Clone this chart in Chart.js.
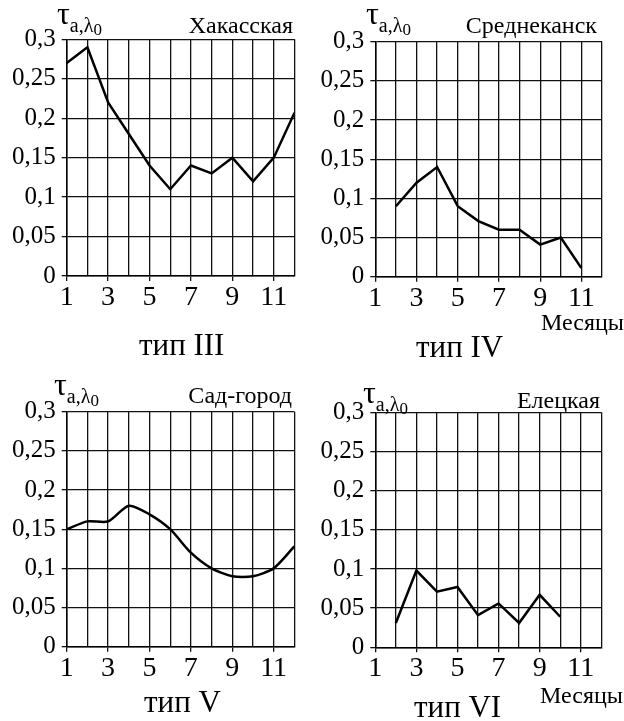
<!DOCTYPE html>
<html>
<head>
<meta charset="utf-8">
<script src="https://cdn.jsdelivr.net/npm/chart.js@4"></script>
<style>
  body { margin: 0; background: #fff; }
  #wrap { position: relative; width: 624px; height: 721px; }
  canvas { position: absolute; }
</style>
</head>
<body>
<div id="wrap"></div>
<script>
// данные (месяцы и значения tau)
const yTickLabels = ["0", "0,05", "0,1", "0,15", "0,2", "0,25", "0,3"];
const xTickLabels = ["1", "3", "5", "7", "9", "11"];

const khakasMonths = [1, 2, 3, 4, 5, 6, 7, 8, 9, 10, 11, 12];
const khakasValues = [0.27, 0.29, 0.22, 0.18, 0.14, 0.11, 0.14, 0.13, 0.15, 0.12, 0.15, 0.207];

const srednekanskMonths = [2, 3, 4, 5, 6, 7, 8, 9, 10, 11];
const srednekanskValues = [0.09, 0.12, 0.14, 0.09, 0.071, 0.06, 0.06, 0.041, 0.05, 0.011];

const sadgorodMonths = [1, 2, 3, 4, 5, 6, 7, 8, 9, 10, 11, 12];
const sadgorodValues = [0.15, 0.16, 0.16, 0.18, 0.169, 0.15, 0.12, 0.1, 0.09, 0.09, 0.1, 0.128];

const eletskMonths = [2, 3, 4, 5, 6, 7, 8, 9, 10];
const eletskValues = [0.031, 0.098, 0.071, 0.077, 0.041, 0.056, 0.031, 0.067, 0.039];

const panels = [
    { title: "Хакасская", tip: "тип III", months: khakasMonths, values: khakasValues, tension: 0,
      x: 0, y: 0, h: 360, area: { l: 66.7, t: 39.3, r: 294.5, b: 276 },
      titleX: 293, titleY: 33, tauX: 57, tauY: 24, tipX: 139, tipY: 355, mes: null },
    { title: "Среднеканск", tip: "тип IV", months: srednekanskMonths, values: srednekanskValues, tension: 0,
      x: 312, y: 0, h: 360, area: { l: 63.3, t: 41.7, r: 290, b: 276.7 },
      titleX: 285, titleY: 33, tauX: 54, tauY: 24, tipX: 104, tipY: 357, mes: { x: 229, y: 330 } },
    { title: "Сад-город", tip: "тип V", months: sadgorodMonths, values: sadgorodValues, tension: 0.25,
      x: 0, y: 360, h: 361, area: { l: 66.7, t: 51.7, r: 294.3, b: 286.7 },
      titleX: 292, titleY: 43, tauX: 54, tauY: 35, tipX: 144, tipY: 352, mes: null },
    { title: "Елецкая", tip: "тип VI", months: eletskMonths, values: eletskValues, tension: 0,
      x: 312, y: 360, h: 361, area: { l: 63.3, t: 52.3, r: 289.3, b: 287.3 },
      titleX: 288, titleY: 48, tauX: 51, tauY: 43, tipX: 102, tipY: 357, mes: { x: 228, y: 343 } }
];

const serif = "'Liberation Serif', 'DejaVu Serif', serif";

// подписи: название станции, tau, тип, месяцы
const textPlugin = {
    id: "texts",
    afterDraw(chart) {
        const p = chart.options.plugins.texts.panel;
        const ctx = chart.ctx;
        ctx.save();
        ctx.fillStyle = "#000";
        ctx.textBaseline = "alphabetic";

        ctx.font = "24px " + serif;
        ctx.textAlign = "right";
        ctx.fillText(p.title, p.titleX, p.titleY);

        ctx.textAlign = "left";
        ctx.font = "32px " + serif;
        ctx.fillText("τ", p.tauX, p.tauY);
        let w = ctx.measureText("τ").width;
        ctx.font = "20px " + serif;
        ctx.fillText("a,λ", p.tauX + w, p.tauY + 8);
        w += ctx.measureText("a,λ").width;
        ctx.font = "17px " + serif;
        ctx.fillText("0", p.tauX + w, p.tauY + 11);

        ctx.font = "31px " + serif;
        ctx.fillText(p.tip, p.tipX, p.tipY);

        if (p.mes) {
            ctx.font = "24px " + serif;
            ctx.fillText("Месяцы", p.mes.x, p.mes.y);
        }
        ctx.restore();
    }
};

const wrap = document.getElementById("wrap");

panels.forEach(p => {
    const cv = document.createElement("canvas");
    cv.width = 312;
    cv.height = p.h;
    cv.style.left = p.x + "px";
    cv.style.top = p.y + "px";
    cv.style.width = "312px";
    cv.style.height = p.h + "px";
    wrap.appendChild(cv);

    const points = p.months.map((m, i) => ({ x: m, y: p.values[i] }));

    new Chart(cv, {
        type: "line",
        data: {
            datasets: [{
                data: points,
                borderColor: "#000",
                borderWidth: 2.5,
                pointRadius: 0,
                tension: p.tension,
                fill: false
            }]
        },
        options: {
            responsive: false,
            animation: false,
            layout: { padding: { left: 0, top: p.area.t, right: 312 - p.area.r, bottom: 0 } },
            plugins: {
                legend: { display: false },
                tooltip: { enabled: false },
                texts: { panel: p }
            },
            scales: {
                x: {
                    type: "linear",
                    min: 1,
                    max: 12,
                    afterBuildTicks: axis => {
                        axis.ticks = [];
                        for (let m = 1; m <= 12; m++) axis.ticks.push({ value: m });
                    },
                    afterFit: axis => { axis.height = p.h - p.area.b; },
                    border: { color: "#000", width: 1.5 },
                    grid: {
                        color: "#111",
                        lineWidth: 1.3,
                        tickLength: 5,
                        tickColor: c => (c.tick && c.tick.value % 2 === 1) ? "#111" : "rgba(0,0,0,0)"
                    },
                    ticks: {
                        autoSkip: false,
                        maxRotation: 0,
                        padding: 0,
                        color: "#000",
                        font: { family: serif, size: 28 },
                        callback: v => (v % 2 === 1) ? xTickLabels[(v - 1) / 2] : ""
                    }
                },
                y: {
                    min: 0,
                    max: 0.3,
                    afterBuildTicks: axis => {
                        axis.ticks = yTickLabels.map((t, i) => ({ value: i * 0.05 }));
                    },
                    afterFit: axis => { axis.width = p.area.l; },
                    border: { color: "#000", width: 1.5 },
                    grid: { color: "#111", lineWidth: 1.3, tickLength: 5, tickColor: "#111" },
                    ticks: {
                        padding: 6,
                        color: "#000",
                        font: { family: serif, size: 25 },
                        callback: (v, i) => yTickLabels[i]
                    }
                }
            }
        },
        plugins: [textPlugin]
    });
});
</script>
</body>
</html>
